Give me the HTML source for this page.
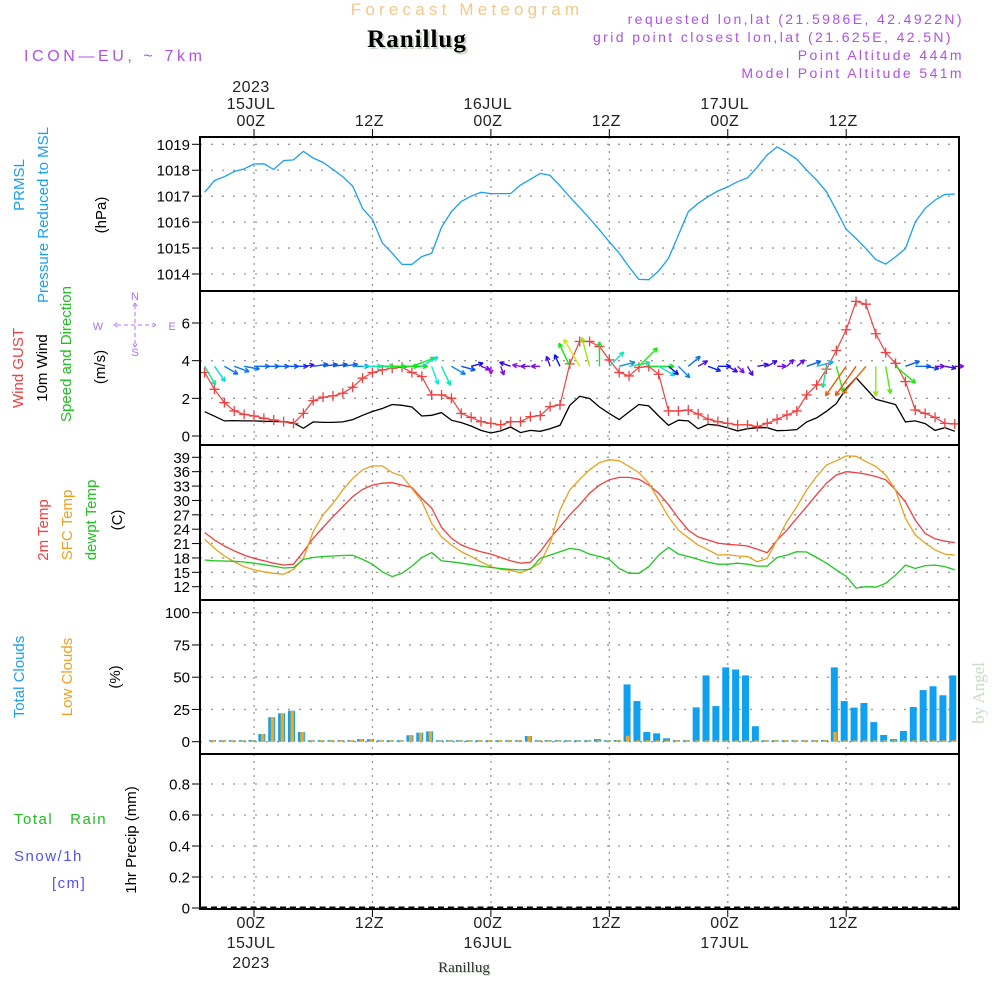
<!DOCTYPE html>
<html><head><meta charset="utf-8"><style>
html,body{margin:0;padding:0;background:#fff;width:1000px;height:1000px;overflow:hidden}
svg text{font-family:"Liberation Sans",sans-serif}
svg text.serif{font-family:"Liberation Serif",serif}
</style></head><body>
<svg id="chart" width="1000" height="1000" xmlns="http://www.w3.org/2000/svg">
<g>
<text x="467" y="15" fill="#f2c98a" font-size="17" letter-spacing="4.2" text-anchor="middle">Forecast Meteogram</text>
<text class="serif" x="419" y="49" fill="#c8d8c8" font-size="25" font-weight="bold" text-anchor="middle" letter-spacing="1">Ranillug</text>
<text class="serif" x="417" y="47" fill="#000" font-size="25" font-weight="bold" text-anchor="middle" letter-spacing="1">Ranillug</text>
<text x="24" y="61" fill="#b050e8" font-size="16" letter-spacing="3.6">ICON—EU,  ~  7km</text>
<g fill="#b050e8" font-size="14" letter-spacing="2.4" text-anchor="end">
<text x="964" y="24">requested lon,lat (21.5986E, 42.4922N)</text>
<text x="953" y="42">grid point closest lon,lat (21.625E, 42.5N)</text>
<text x="964" y="60">Point Altitude 444m</text>
<text x="964" y="78">Model Point Altitude 541m</text>
</g>
</g>
<g id="panels"></g>
<g font-size="15">
<text transform="translate(24,185) rotate(-90)" fill="#1aa0f0" text-anchor="middle">PRMSL</text>
<text transform="translate(48,215) rotate(-90)" fill="#1aa0f0" text-anchor="middle">Pressure Reduced to MSL</text>
<text transform="translate(106,215) rotate(-90)" fill="#000" text-anchor="middle">(hPa)</text>
<text transform="translate(23,368) rotate(-90)" fill="#f04040" text-anchor="middle">Wind GUST</text>
<text transform="translate(47,368) rotate(-90)" fill="#000" text-anchor="middle">10m Wind</text>
<text transform="translate(71,354) rotate(-90)" fill="#20c020" text-anchor="middle">Speed and Direction</text>
<text transform="translate(105,367) rotate(-90)" fill="#000" text-anchor="middle">(m/s)</text>
<text transform="translate(48,530) rotate(-90)" fill="#f04040" text-anchor="middle">2m Temp</text>
<text transform="translate(72,525) rotate(-90)" fill="#f0a020" text-anchor="middle">SFC Temp</text>
<text transform="translate(96,520) rotate(-90)" fill="#20c020" text-anchor="middle">dewpt Temp</text>
<text transform="translate(122,520) rotate(-90)" fill="#000" text-anchor="middle">(C)</text>
<text transform="translate(24,677) rotate(-90)" fill="#1aa0f0" text-anchor="middle">Total Clouds</text>
<text transform="translate(72,677) rotate(-90)" fill="#f0a020" text-anchor="middle">Low Clouds</text>
<text transform="translate(120,677) rotate(-90)" fill="#000" text-anchor="middle">(%)</text>
<text transform="translate(136,840) rotate(-90)" fill="#000" text-anchor="middle">1hr Precip (mm)</text>
<text x="14" y="824" fill="#20c020" letter-spacing="1.5" xml:space="preserve">Total   Rain</text>
<text x="14" y="861" fill="#5050f0" letter-spacing="1.5">Snow/1h</text>
<text x="52" y="888" fill="#5050f0" letter-spacing="1.5">[cm]</text>
</g>
<g fill="#b070f0" stroke="#b070f0" font-size="11" text-anchor="middle">
<text x="135" y="300" stroke="none">N</text>
<text x="135" y="356" stroke="none">S</text>
<text x="98" y="330" stroke="none">W</text>
<text x="172" y="330" stroke="none">E</text>
<path d="M135 305V345M117 325H153M114 325l5-3M114 325l5 3M156 325l-5-3M156 325l-5 3M135 303l-3 5M135 303l3 5M135 347l-3-5M135 347l3-5" stroke-dasharray="4 3" fill="none"/>
</g>
<text class="serif" transform="translate(984,693) rotate(-90)" fill="#c8dcc8" font-size="17" text-anchor="middle">by Angel</text>
<text class="serif" x="465" y="973" fill="#c8d8c8" font-size="15" text-anchor="middle">Ranillug</text>
<text class="serif" x="464" y="972" fill="#333" font-size="15" text-anchor="middle">Ranillug</text>
</svg>
<script>
const hours=[];for(let h=-5;h<=71;h++)hours.push(h);
const pressure=[1017.15,1017.6,1017.75,1017.95,1018.05,1018.24,1018.25,1018.03,1018.37,1018.4,1018.73,1018.47,1018.3,1018.03,1017.75,1017.39,1016.53,1016.1,1015.2,1014.8,1014.37,1014.37,1014.67,1014.8,1015.8,1016.4,1016.8,1017.0,1017.15,1017.1,1017.1,1017.1,1017.43,1017.65,1017.88,1017.8,1017.4,1016.97,1016.56,1016.14,1015.7,1015.24,1014.8,1014.27,1013.79,1013.78,1014.12,1014.6,1015.5,1016.4,1016.72,1016.98,1017.2,1017.36,1017.56,1017.71,1018.13,1018.59,1018.9,1018.68,1018.42,1018.0,1017.62,1017.17,1016.46,1015.72,1015.37,1014.98,1014.56,1014.38,1014.66,1014.98,1016.01,1016.53,1016.85,1017.07,1017.08];
const wind=[1.29,1.05,0.8,0.82,0.8,0.8,0.78,0.77,0.75,0.7,0.41,0.75,0.72,0.72,0.75,0.87,1.1,1.3,1.46,1.67,1.63,1.54,1.06,1.1,1.24,0.84,0.71,0.53,0.3,0.16,0.27,0.48,0.18,0.3,0.25,0.39,0.57,1.63,2.11,1.99,1.54,1.19,0.87,1.28,1.67,1.6,1.06,0.57,0.84,0.8,0.39,0.62,0.57,0.43,0.27,0.39,0.44,0.44,0.28,0.3,0.34,0.75,0.96,1.31,1.72,2.52,3.09,2.52,1.95,1.81,1.67,0.75,0.8,0.66,0.3,0.44,0.25];
const gust=[3.37,2.48,1.77,1.33,1.15,1.06,0.94,0.85,0.76,0.67,1.2,1.88,2.06,2.13,2.27,2.59,3.07,3.37,3.51,3.6,3.65,3.37,3.16,2.18,2.18,2.0,1.2,0.99,0.76,0.67,0.59,0.76,0.76,1.03,1.08,1.56,1.65,3.83,5.02,5.02,4.75,4.04,3.37,3.19,3.65,3.69,3.28,1.33,1.33,1.38,1.17,0.89,0.76,0.67,0.59,0.59,0.5,0.67,0.89,1.12,1.33,2.18,2.71,3.55,4.54,5.64,7.15,7.0,5.43,4.43,3.86,2.89,1.38,1.2,0.99,0.67,0.64];
const windDir=[-60,-55,-30,-20,-10,0,0,0,0,0,8,8,8,8,8,0,0,0,0,0,0,20,30,-70,-65,-30,-15,15,-20,-90,-70,160,170,180,180,110,115,115,120,105,90,45,15,10,45,0,-30,-40,-45,40,30,-20,0,-30,-45,-60,10,30,0,45,40,20,15,-100,-75,-125,-125,-130,-90,-80,-40,20,0,-10,0,-10,0];
const temp2m=[23.3,21.75,20.5,19.46,18.6,17.9,17.4,16.9,16.5,16.7,19.3,22.1,24.4,26.6,28.7,30.8,32.3,33.2,33.6,33.7,33.2,32.7,30.4,28.4,24.4,22.1,20.7,19.9,19.3,18.8,18.1,17.4,16.9,17.1,19.3,22.1,24.5,27.0,29.1,31.5,33.2,34.3,34.8,34.8,34.4,33.2,31.5,29.1,26.3,23.8,22.4,21.75,21.1,20.85,20.7,20.5,19.8,19.1,21.75,23.8,26.3,28.7,31.2,33.6,35.3,36.0,35.8,35.5,35.0,34.3,32.2,29.7,25.9,23.1,22.0,21.5,21.2];
const tempSfc=[21.9,20.0,18.4,17.2,16.2,15.5,15.1,14.8,14.6,15.6,17.9,23.5,27.0,29.4,32.2,34.6,36.4,37.2,37.2,35.8,35.1,32.5,29.8,25.2,22.4,20.7,19.3,18.3,17.2,16.2,15.6,15.4,14.9,15.8,16.9,21.1,28.0,32.2,34.4,36.4,37.9,38.5,38.3,37.1,35.8,33.6,30.1,26.6,23.8,22.2,20.7,19.7,18.6,18.7,18.4,18.3,17.2,17.9,21.75,25.6,28.7,32.2,35.0,37.4,38.3,39.3,39.2,38.1,37.1,35.3,32.2,26.3,22.8,21.1,19.7,18.8,18.6];
const dewpt=[17.58,17.4,17.37,17.3,17.16,16.9,16.6,16.3,15.9,16.0,17.7,18.1,18.3,18.4,18.5,18.55,17.7,16.7,15.1,14.1,14.8,16.3,18.1,19.1,17.4,17.2,16.9,16.6,16.3,16.0,15.8,15.6,15.5,15.6,17.9,18.6,19.3,20.0,19.7,18.8,18.3,17.7,15.8,14.8,14.8,16.2,18.6,20.2,18.8,18.3,17.7,17.1,16.7,16.7,16.9,16.7,16.3,16.3,18.1,18.6,19.3,19.25,18.1,16.9,15.5,14.2,11.7,12.0,11.9,12.7,14.4,16.5,15.8,16.4,16.5,16.2,15.5];
const totalCloud=[0,0,0,0,0,1.3,6,19,22,24,7.5,0,0,0,0,0,2,2,0,0,0,5,7,8,0,0,0,0,0,0,0,0,0,4.4,0,0,0,0,0,0,2,0,1.3,44.4,31.5,7.5,6.5,2.6,0.5,1,26.6,51.4,27.6,57.6,56,51.4,12,0,0,0,0,0,0,1.3,57.6,31.5,26.4,30,15.2,5.2,2,8.3,26.9,40,43,36,51.4];
const lowCloud=[0,0,0,0,0,1.3,6,19,22,24,7.5,0,0,0,0,0,2,2,0,0,0,5,7,8,0,0,0,0,0,0,0,0,0,4.4,0,0,0,0,0,0,0,0,1.3,4.6,0,0,0,0,0,0,0,0,0,0,0,0,0,0,0,0,0,0,0,0,7.5,0,0,0,0,0,0,0,0,0,0,0,0];
const precip=hours.map(()=>0);
const pTicks=[1014,1015,1016,1017,1018,1019];
const wTicks=[0,2,4,6];
const tTicks=[12,15,18,21,24,27,30,33,36,39];
const cTicks=[0,25,50,75,100];
const rTicks=[0,0.2,0.4,0.6,0.8];
const timeTicks=[0,12,24,36,48,60];
const topLabels=[["2023","15JUL","00Z"],["12Z"],["16JUL","00Z"],["12Z"],["17JUL","00Z"],["12Z"]];
const botLabels=[["00Z","15JUL","2023"],["12Z"],["00Z","16JUL"],["12Z"],["00Z","17JUL"],["12Z"]];

const NS="http://www.w3.org/2000/svg";
const L=200,R=959;
const X=h=>254+h*9.87;
const g=document.getElementById('panels');
function el(tag,attrs,parent){const e=document.createElementNS(NS,tag);for(const k in attrs)e.setAttribute(k,attrs[k]);(parent||g).appendChild(e);return e;}
function lin(d0,d1,p0,p1){return v=>p0+(v-d0)*(p1-p0)/(d1-d0);}
const yP=lin(1019,1014,144.3,274);
const yW=lin(0,6,436,323);
const yT=lin(12,39,586.7,457.3);
const yC=lin(0,100,741.7,612.7);
const yR=lin(0,0.8,908,784);
const panels=[{n:'pressure',t:137,b:291,y:yP,ticks:pTicks,fmt:v=>v},{n:'wind',t:291,b:445,y:yW,ticks:wTicks,fmt:v=>v},{n:'temp',t:445,b:600,y:yT,ticks:tTicks,fmt:v=>v},{n:'cloud',t:600,b:754,y:yC,ticks:cTicks,fmt:v=>v},{n:'precip',t:754,b:909,y:yR,ticks:rTicks,fmt:v=>v===0?'0':v.toFixed(1)}];
panels.forEach(p=>{
  const grp=el('g',{});
  
  
  p.ticks.forEach(v=>{
    const y=p.y(v);
    const gl=el('line',{x1:L,x2:R,y1:y,y2:y,stroke:'#999','stroke-width':1.3,'stroke-dasharray':'2 9'},grp);
    
    
    el('line',{x1:L-8,x2:L,y1:y,y2:y,stroke:'#000','stroke-width':1},grp);
    const tx=el('text',{x:L-10,y:y+5.5,'font-size':15,'text-anchor':'end',fill:'#000'},grp);
    
    
    tx.textContent=p.fmt(v);
  });
  timeTicks.forEach(h=>{
    const vl=el('line',{x1:X(h),x2:X(h),y1:p.t,y2:p.b,stroke:'#999','stroke-width':1.3,'stroke-dasharray':'2 5'},grp);
    
    
  });
  p.grp=grp;
});
function line(vals,yf,color,name,w){
  const d=vals.map((v,i)=>(i?'L':'M')+X(hours[i]).toFixed(1)+' '+yf(v).toFixed(1)).join('');
  const e=el('path',{d:d,fill:'none',stroke:color,'stroke-width':w||1.3});
  
  
  return e;
}
line(pressure,yP,'#1aa0f0','pressure-line');
line(temp2m,yT,'#f04040','temp-2m-line');
line(tempSfc,yT,'#e8a020','temp-sfc-line');
line(dewpt,yT,'#20c820','dewpoint-line');
line(wind,yW,'#000','wind-speed-line');
line(gust,yW,'#f04040','gust-line',1.2);
gust.forEach((v,i)=>{
  const x=X(hours[i]),y=yW(v);
  const m=el('path',{d:`M${x-5} ${y}H${x+5}M${x} ${y-5}V${y+5}`,stroke:'#f04040','stroke-width':1.3});
  
  
});
const baseY=yW(3.7);
windDir.forEach((a,i)=>{
  const w=wind[i];
  let hue=300-110*w; if(hue<20)hue=20;
  const col=`hsl(${hue},90%,48%)`;
  const len=Math.min(36,6+12*w);
  const r=a*Math.PI/180;
  const x0=X(hours[i]), y0=baseY;
  const x1=x0+len*Math.cos(r), y1=y0-len*Math.sin(r);
  const hl=5;
  const b1=r+Math.PI-0.45,b2=r+Math.PI+0.45;
  const d=`M${x0} ${y0}L${x1} ${y1}M${x1} ${y1}L${x1+hl*Math.cos(b1)} ${y1-hl*Math.sin(b1)}M${x1} ${y1}L${x1+hl*Math.cos(b2)} ${y1-hl*Math.sin(b2)}`;
  const e=el('path',{d:d,stroke:col,'stroke-width':1.4,fill:'none'});
  
  
});
totalCloud.forEach((v,i)=>{
  const cx=X(hours[i])-2;
  if(cx-3.5<L)return;
  const y0=yC(0),h=Math.max(1.5,y0-yC(v));
  const b=el('rect',{x:cx-3.5,y:y0-h,width:Math.min(7,R-(cx-3.5)),height:h,fill:'#10a0f0'});
  
  
  const lv=lowCloud[i],lh=Math.max(1.5,y0-yC(lv));
  const o=el('rect',{x:cx-1,y:y0-lh,width:3.5,height:lh,fill:'#f0a820'});
  
  
});
precip.forEach((v,i)=>{
  const cx=X(hours[i]);
  if(cx<L)return;
  const h=Math.max(1.5,yR(0)-yR(v));
  const b=el('rect',{x:cx-3.5,y:yR(0)-h,width:6,height:h,fill:'#000'});
  
  
});
panels.forEach(p=>{
  const f=el('rect',{x:L,y:p.t,width:R-L,height:p.b-p.t,fill:'none',stroke:'#000','stroke-width':2});
  
  
});
timeTicks.forEach((h,k)=>{
  const x=X(h)-3;
  el('line',{x1:X(h),x2:X(h),y1:129,y2:137,stroke:'#000'});
  el('line',{x1:X(h),x2:X(h),y1:909,y2:917,stroke:'#000'});
  const tl=topLabels[k];
  tl.forEach((s,j)=>{
    const t=el('text',{x:x,y:126-(tl.length-1-j)*17,'font-size':16,'text-anchor':'middle',fill:'#222','letter-spacing':'0.5'});
    
    
    t.textContent=s;
  });
  botLabels[k].forEach((s,j)=>{
    const t=el('text',{x:x,y:928+j*20,'font-size':16,'text-anchor':'middle',fill:'#222','letter-spacing':'0.5'});
    
    
    t.textContent=s;
  });
});
</script>
</body></html>
